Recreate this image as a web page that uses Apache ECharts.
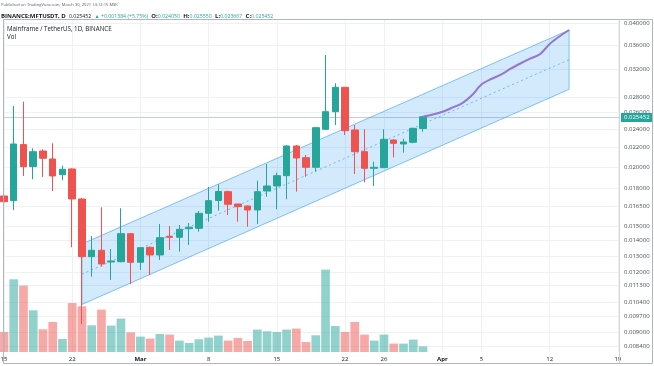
<!DOCTYPE html>
<html><head><meta charset="utf-8">
<script src="https://cdn.jsdelivr.net/npm/echarts@6/dist/echarts.min.js"></script>
<style>html,body{margin:0;padding:0;background:#fff}#c{width:654px;height:366px}</style>
</head><body><div id="c"></div>
<script>
const dates = ['2021-02-15','2021-02-16','2021-02-17','2021-02-18','2021-02-19','2021-02-20','2021-02-21','2021-02-22','2021-02-23','2021-02-24','2021-02-25','2021-02-26','2021-02-27','2021-02-28',
'2021-03-01','2021-03-02','2021-03-03','2021-03-04','2021-03-05','2021-03-06','2021-03-07','2021-03-08','2021-03-09','2021-03-10','2021-03-11','2021-03-12','2021-03-13','2021-03-14','2021-03-15','2021-03-16','2021-03-17','2021-03-18','2021-03-19','2021-03-20','2021-03-21','2021-03-22','2021-03-23','2021-03-24','2021-03-25','2021-03-26','2021-03-27','2021-03-28','2021-03-29','2021-03-30'];
const open  = [0.017353,0.016964,0.02225,0.0200,0.021571,0.020753,0.019236,0.019774,0.0171,0.012939,0.013346,0.012611,0.01263,0.014461,
0.012593,0.013541,0.013046,0.01428,0.014212,0.014815,0.014844,0.01596,0.01698,0.01772,0.01669,0.016534,0.016217,0.017778,0.018213,0.019143,0.022099,0.020884,0.019937,0.023958,0.026086,0.029353,0.023877,0.021499,0.01984,0.019898,0.02275,0.022314,0.022498,0.02405];
const close = [0.016881,0.022314,0.019994,0.021499,0.020823,0.019115,0.019745,0.017103,0.012939,0.013346,0.01249,0.012673,0.014461,0.012593,
0.013514,0.013046,0.014184,0.014212,0.014772,0.014916,0.01596,0.016964,0.017735,0.01667,0.016478,0.016217,0.017718,0.018213,0.019143,0.022099,0.020854,0.019937,0.024144,0.026086,0.029353,0.023796,0.021499,0.01984,0.019937,0.022827,0.02239,0.022531,0.024068,0.025452];
const low   = [0.01437,0.016217,0.019115,0.018813,0.019023,0.017778,0.018722,0.013541,0.009345,0.011746,0.012328,0.01156,0.012593,0.011339,
0.012133,0.011843,0.012734,0.013365,0.013256,0.013692,0.014602,0.015325,0.016162,0.01583,0.015325,0.014959,0.015156,0.017294,0.016272,0.017078,0.017718,0.019051,0.019517,0.023877,0.024461,0.023307,0.019301,0.018542,0.018213,0.01987,0.020924,0.021395,0.02239,0.023667];
const high  = [0.01875,0.026813,0.027379,0.021855,0.021749,0.02239,0.020092,0.01984,0.01718,0.014301,0.01643,0.01343,0.016351,0.01449,
0.01353,0.01358,0.015156,0.01501,0.015083,0.015229,0.016139,0.018125,0.018363,0.017804,0.0167,0.01657,0.018686,0.020257,0.019423,0.022206,0.022206,0.021158,0.02419,0.034315,0.029926,0.02939,0.024461,0.023958,0.020484,0.023958,0.022827,0.022893,0.02415,0.02555];
const volume = [200,727,664,417,227,300,130,490,457,267,424,264,334,197,
154,134,180,174,114,90,127,144,164,114,140,110,224,207,200,224,234,100,167,824,260,200,300,174,114,174,84,84,124,57];
const priceTicks = [0.04,0.036,0.032,0.028,0.026,0.024,0.022,0.02,0.018,0.0165,0.015,0.014,0.013,0.012,0.0113,0.0104,0.0097,0.009,0.0084];
const timeTicks = ['2021-02-15','2021-02-22','2021-03-01','2021-03-08','2021-03-15','2021-03-22','2021-03-26','2021-04-01','2021-04-05','2021-04-12','2021-04-19'];
const channelDates = ['2021-02-23','2021-04-14'];
const channelUpper = [0.013758,0.038725];
const channelLower = [0.010269,0.029071];
const channelMid = [0.011889,0.03356];
const projDates = ['2021-03-30','2021-03-31','2021-04-01','2021-04-02','2021-04-03','2021-04-04','2021-04-05','2021-04-06','2021-04-07','2021-04-08','2021-04-09','2021-04-10','2021-04-11','2021-04-12','2021-04-13','2021-04-14'];
const projValues = [0.025452,0.025736,0.026086,0.026596,0.027168,0.028212,0.029753,0.030555,0.031197,0.032116,0.032934,0.033707,0.034432,0.03619,0.037527,0.038725];
const lastPrice = 0.025452;

const DAY = 86400000;
const ts = s => Date.UTC(+s.slice(0, 4), +s.slice(5, 7) - 1, +s.slice(8, 10));
const start = ts(dates[0]);
const dayOf = s => Math.round((ts(s) - start) / DAY);
const UP = '#26a69a', DOWN = '#ef5350';
const months = ['Jan','Feb','Mar','Apr','May','Jun','Jul','Aug','Sep','Oct','Nov','Dec'];
const FONT = 'Open Sans';

const chart = echarts.init(document.getElementById('c'), null, {renderer: 'canvas'});
const candles = dates.map((d, i) => [dayOf(d), open[i], close[i], low[i], high[i]]);
const vols = dates.map((d, i) => ({value: [dayOf(d), volume[i]], itemStyle: {color: close[i] >= open[i] ? 'rgba(38,166,154,0.5)' : 'rgba(239,83,80,0.5)'}}));
const tickDays = timeTicks.map(dayOf);
const lastDay = dayOf(dates[dates.length - 1]);

chart.setOption({
  animation: false,
  backgroundColor: '#ffffff',
  textStyle: {fontFamily: FONT},
  grid: {left: 3, right: 35, top: 19, bottom: 14, containLabel: false, outerBoundsMode: 'none'},
  xAxis: {
    type: 'value', min: -0.103, max: 63.12,
    axisLine: {show: false}, axisTick: {show: false, customValues: tickDays},
    axisLabel: {customValues: tickDays, fontSize: 6, color: '#131722', margin: 4, fontFamily: FONT, showMinLabel: true, showMaxLabel: true,
      formatter: v => { const d = new Date(start + v * DAY); return d.getUTCDate() === 1 ? '{m|' + months[d.getUTCMonth()] + '}' : String(d.getUTCDate()); },
      rich: {m: {fontWeight: 'bold', fontSize: 6, color: '#131722', fontFamily: FONT}}},
    splitLine: {show: true, lineStyle: {color: '#eff1f5', width: 1}}
  },
  yAxis: [
    {type: 'log', logBase: 10, min: 0.00816, max: 0.04084, position: 'right', axisLine: {show: false}, axisTick: {show: false}, axisLabel: {show: false}, splitLine: {show: false}},
    {type: 'value', min: 0, max: 3330, show: false, splitLine: {show: false}}
  ],
  graphic: [
    {type: 'rect', shape: {x: 3.5, y: 19.5, width: 649, height: 344}, style: {fill: 'none', stroke: '#b2b5be', lineWidth: 1}, z: 100, silent: true},
    {type: 'line', shape: {x1: 619.5, y1: 19, x2: 619.5, y2: 363}, style: {stroke: '#d1d4dc', lineWidth: 1}, z: 100, silent: true},
    {type: 'text', left: 1, top: 3, style: {text: 'Published on TradingView.com, March 30, 2021 14:12:15 MSK', fontSize: 4.1, fill: '#555a66', fontFamily: FONT}, z: 100},
    {type: 'text', left: 1, top: 10.5, style: {
      text: '{b|BINANCE:MFTUSDT, D} {n|0.025452} {g|▲ +0.001384 (+5.75%)} {b|O:}{g|0.024050} {b|H:}{g|0.025550} {b|L:}{g|0.023667} {b|C:}{g|0.025452}',
      rich: {
        b: {fontSize: 6.0, fontWeight: 'bold', fill: '#131722', fontFamily: FONT},
        n: {fontSize: 5.2, fill: '#131722', fontFamily: FONT},
        g: {fontSize: 5.2, fill: '#26a69a', fontFamily: FONT}
      }}, z: 100},
    {type: 'text', left: 7, top: 26, style: {text: 'Mainframe / TetherUS, 1D, BINANCE', fontSize: 6.2, fill: '#131722', fontFamily: FONT}, z: 100},
    {type: 'text', left: 7, top: 34, style: {text: 'Vol', fontSize: 6.2, fill: '#131722', fontFamily: FONT}, z: 100}
  ],
  series: [
    {
      type: 'custom', z: 0, silent: true, clip: false,
      encode: {x: 0, y: 1},
      data: priceTicks.map(v => [0, v]),
      renderItem: (params, api) => {
        const cs = params.coordSys;
        const y = Math.round(api.coord([0, api.value(1)])[1]) + 0.5;
        return {type: 'group', children: [
          {type: 'line', shape: {x1: cs.x, y1: y, x2: cs.x + cs.width, y2: y}, style: {stroke: '#eff1f5', lineWidth: 1}},
          {type: 'text', x: cs.x + cs.width + 5, y: y, style: {text: api.value(1).toFixed(6), fontSize: 6, fill: '#4a4e59', fontFamily: FONT, verticalAlign: 'middle', align: 'left'}}
        ]};
      }
    },
    {
      type: 'custom', z: 0, silent: true, clip: false,
      encode: {x: 0, y: 1},
      data: [[lastDay, lastPrice]],
      renderItem: (params, api) => {
        const cs = params.coordSys;
        const y = Math.round(api.coord([0, api.value(1)])[1]) + 0.5;
        return {type: 'line', shape: {x1: cs.x, y1: y, x2: cs.x + cs.width, y2: y}, style: {stroke: '#c9ccd3', lineWidth: 1}};
      }
    },
    {
      type: 'bar', yAxisIndex: 1, data: vols, barWidth: 8.7, z: 1, silent: true
    },
    {
      type: 'custom', z: 2, silent: true,
      encode: {x: [0, 4], y: [1, 2, 3, 5, 6, 7]},
      data: [[dayOf(channelDates[0]), channelUpper[0], channelLower[0], channelMid[0], dayOf(channelDates[1]), channelUpper[1], channelLower[1], channelMid[1]]],
      renderItem: (params, api) => {
        const a1 = api.coord([api.value(0), api.value(1)]);
        const a2 = api.coord([api.value(0), api.value(2)]);
        const m1 = api.coord([api.value(0), api.value(3)]);
        const b1 = api.coord([api.value(4), api.value(5)]);
        const b2 = api.coord([api.value(4), api.value(6)]);
        const m2 = api.coord([api.value(4), api.value(7)]);
        return {type: 'group', children: [
          {type: 'polygon', shape: {points: [a1, b1, b2, a2]}, style: {fill: 'rgba(33,150,243,0.2)', stroke: 'rgba(33,150,243,0.55)', lineWidth: 1}},
          {type: 'line', shape: {x1: m1[0], y1: m1[1], x2: m2[0], y2: m2[1]}, style: {stroke: 'rgba(33,150,243,0.6)', lineWidth: 1, lineDash: [2, 3]}}
        ]};
      }
    },
    {
      type: 'candlestick', data: candles, barWidth: 7, z: 3, silent: true,
      itemStyle: {color: UP, color0: DOWN, borderColor: UP, borderColor0: DOWN, borderWidth: 1}
    },
    {
      type: 'line', z: 4, silent: true, symbol: 'none', smooth: 0.3,
      lineStyle: {color: '#9575cd', width: 2},
      data: projDates.map((d, i) => [dayOf(d), projValues[i]])
    },
    {
      type: 'custom', z: 5, silent: true, clip: false,
      encode: {x: 0, y: 1},
      data: [[lastDay, lastPrice]],
      renderItem: (params, api) => {
        const cs = params.coordSys;
        const y = Math.round(api.coord([0, api.value(1)])[1]) + 0.5;
        return {type: 'text', x: cs.x + cs.width + 2, y: y, style: {text: api.value(1).toFixed(6), fontSize: 6, fill: '#ffffff', backgroundColor: '#26a69a', padding: [2, 3, 1, 3], fontFamily: FONT, verticalAlign: 'middle', align: 'left'}};
      }
    }
  ]
});
</script></body></html>
